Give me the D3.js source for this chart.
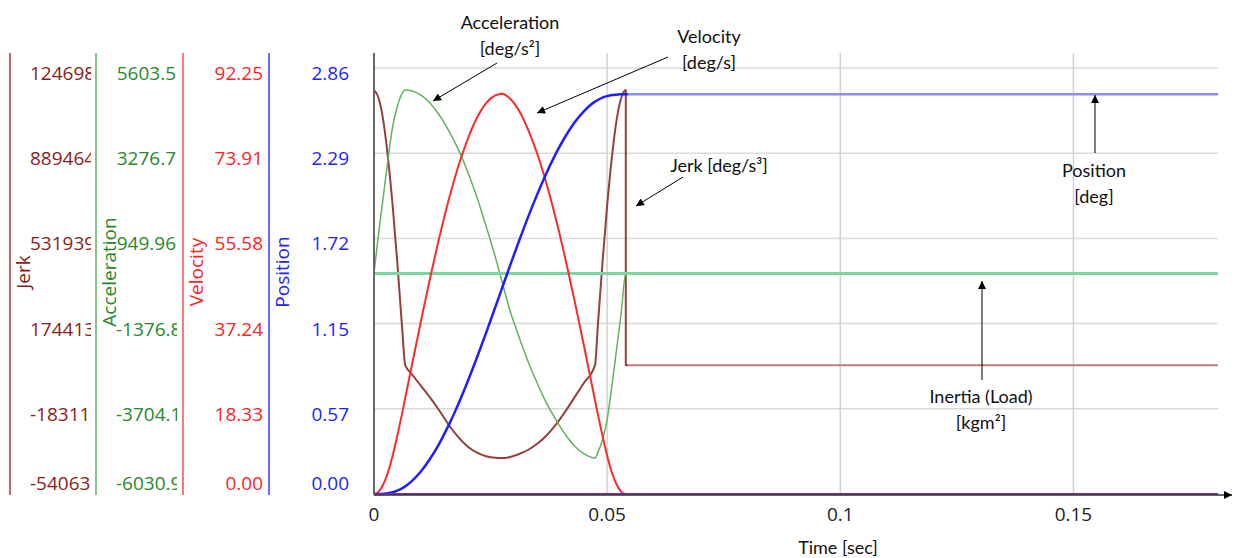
<!DOCTYPE html>
<html>
<head>
<meta charset="utf-8">
<script src="https://cdn.jsdelivr.net/npm/d3@7"></script>
<style>
  html, body { margin: 0; padding: 0; background: #fff; }
  text { font-family: "Open Sans", sans-serif; }
  .note { font-family: Lato, sans-serif; font-size: 18px; fill: #111; }
</style>
</head>
<body>
<div id="chart"></div>
<script>
// time samples (s); 0.054 appears twice for the jerk drop
const time = [0, 0.001, 0.002, 0.003, 0.004, 0.005, 0.006, 0.0067, 0.008, 0.010,
  0.012, 0.014, 0.016, 0.018, 0.020, 0.022, 0.024, 0.026, 0.0275, 0.029,
  0.031, 0.033, 0.035, 0.037, 0.039, 0.041, 0.043, 0.045, 0.0474, 0.048,
  0.049, 0.050, 0.051, 0.052, 0.053, 0.054, 0.054, 0.181];

const jerk = [1154700, 1120000, 1025000, 870000, 670000, 430000, 165000, 0, -35000, -85000,
  -135000, -190000, -250000, -300000, -340000, -366000, -382000, -389000, -390000, -386000,
  -374000, -356000, -330000, -295000, -250000, -195000, -135000, -75000, 0, 165000,
  430000, 670000, 870000, 1025000, 1120000, 1154700, 0, 0];

const acceleration = [0, 1100, 2100, 3100, 4000, 4550, 4900, 5000, 4980, 4870,
  4650, 4320, 3900, 3400, 2800, 2100, 1300, 450, -250, -950,
  -1700, -2400, -3000, -3550, -4000, -4400, -4720, -4930, -5048, -4900,
  -4550, -4000, -3100, -2100, -1100, 0, 0, 0];

const velocity = [0, 0.5, 2.1, 4.7, 8.3, 12.6, 17.3, 20.8, 27.3, 37.1,
  46.6, 55.5, 63.6, 70.7, 76.6, 81.3, 84.6, 86.3, 86.7, 85.8,
  83.2, 79.0, 73.7, 67.2, 59.6, 51.1, 41.9, 32.2, 20.3, 17.3,
  12.6, 8.3, 4.7, 2.1, 0.5, 0, 0, 0];

const position = [0, 0.0003, 0.0016, 0.0051, 0.0117, 0.0224, 0.0377, 0.0513, 0.0833, 0.149,
  0.235, 0.339, 0.461, 0.598, 0.749, 0.910, 1.079, 1.254, 1.387, 1.519,
  1.691, 1.857, 2.013, 2.157, 2.287, 2.400, 2.496, 2.571, 2.636, 2.647,
  2.663, 2.673, 2.680, 2.683, 2.685, 2.685, 2.685, 2.685];

const inertia = time.map(() => 0.00523);  // constant load inertia [kgm2]
const torque = time.map(() => 0);         // purple trace along the base

// axis tick labels as printed
const jerkLabels = ["-540636.6", "-183111.4", "174413.8", "531939.0", "889464.2", "1246989.4"];
const accLabels = ["-6030.9", "-3704.1", "-1376.8", "949.96", "3276.7", "5603.5"];
const velLabels = ["0.00", "18.33", "37.24", "55.58", "73.91", "92.25"];
const posLabels = ["0.00", "0.57", "1.15", "1.72", "2.29", "2.86"];
const timeTicks = [0, 0.05, 0.1, 0.15];

const W = 1239, H = 558;
const pL = 374, pR = 1218, pT = 68, pB = 494, gridTop = 53;

const svg = d3.select("#chart").append("svg")
    .attr("width", W)
    .attr("height", H);

const x = d3.scaleLinear().domain([0, 0.181]).range([pL, pR]);
const yJerk = d3.scaleLinear().domain([-540636.6, 1246989.4]).range([pB, pT]);
const yAcc = d3.scaleLinear().domain([-6030.9, 5603.5]).range([pB, pT]);
const yVel = d3.scaleLinear().domain([0, 92.25]).range([pB, pT]);
const yPos = d3.scaleLinear().domain([0, 2.862]).range([pB, pT]);
const yInertia = d3.scaleLinear().domain([0, 0.0101]).range([pB, pT]);

const defs = svg.append("defs");
defs.append("marker")
    .attr("id", "arrow")
    .attr("viewBox", "0 0 10 10")
    .attr("refX", 10).attr("refY", 5)
    .attr("markerWidth", 9).attr("markerHeight", 8)
    .attr("markerUnits", "userSpaceOnUse")
    .attr("orient", "auto")
  .append("path")
    .attr("d", "M0,0L10,5L0,10z")
    .attr("fill", "#000");

defs.append("clipPath").attr("id", "plotClip")
  .append("rect")
    .attr("x", pL).attr("y", gridTop - 2)
    .attr("width", pR - pL + 2).attr("height", pB - gridTop + 4);

// the flat part after the move looks paler than the moving part
function fadeGradient(id, strong, pale) {
  const g = defs.append("linearGradient")
      .attr("id", id)
      .attr("gradientUnits", "userSpaceOnUse")
      .attr("x1", pL).attr("x2", pR).attr("y1", 0).attr("y2", 0);
  const cut = (x(0.0545) - pL) / (pR - pL);
  g.append("stop").attr("offset", cut).attr("stop-color", strong);
  g.append("stop").attr("offset", cut).attr("stop-color", pale);
}
fadeGradient("posGrad", "#1e1eff", "#8a8cff");
fadeGradient("jerkGrad", "#94403f", "#c27a7a");

// grid
const yGrid = d3.range(6).map(i => pT + i * (pB - pT) / 5);
svg.append("g")
  .selectAll("line")
  .data(yGrid.slice(0, 5))
  .join("line")
    .attr("x1", pL).attr("x2", pR)
    .attr("y1", d => d).attr("y2", d => d)
    .attr("stroke", "#dadada")
    .attr("stroke-width", 1.5);

svg.append("g")
  .selectAll("line")
  .data(timeTicks.slice(1))
  .join("line")
    .attr("x1", d => x(d)).attr("x2", d => x(d))
    .attr("y1", gridTop).attr("y2", pB)
    .attr("stroke", "#d2d2d2")
    .attr("stroke-width", 1.5);

// left stacked axes
const axes = [
  { name: "Jerk", labels: jerkLabels, x0: 10, text: "#8b1c1c", line: "#a03a3a" },
  { name: "Acceleration", labels: accLabels, x0: 96, text: "#26892a", line: "#5cb25c" },
  { name: "Velocity", labels: velLabels, x0: 183, text: "#ff2424", line: "#ff4d4d" },
  { name: "Position", labels: posLabels, x0: 269, text: "#2323ff", line: "#3a3aff" }
];

axes.forEach((a, k) => {
  const g = svg.append("g");
  const boxL = a.x0 + 20, boxR = a.x0 + 81;

  defs.append("clipPath").attr("id", "lab" + k)
    .append("rect")
      .attr("x", boxL).attr("y", 40)
      .attr("width", boxR - boxL).attr("height", 470);

  g.append("line")
      .attr("x1", a.x0).attr("x2", a.x0)
      .attr("y1", gridTop).attr("y2", pB + 1)
      .attr("stroke", a.line)
      .attr("stroke-width", 1.5);

  g.append("text")
      .attr("transform", `translate(${a.x0 + 13},272) rotate(-90)`)
      .attr("text-anchor", "middle")
      .attr("dominant-baseline", "central")
      .attr("font-size", 19)
      .attr("fill", a.text)
      .text(a.name);

  const lab = g.append("g").attr("clip-path", `url(#lab${k})`);
  lab.selectAll("text")
    .data(a.labels)
    .join("text")
      .attr("y", (d, i) => Math.min(yGrid[5 - i] + 5, 483))
      .attr("dominant-baseline", "central")
      .attr("font-size", 19)
      .attr("fill", a.text)
      .text(d => d)
      .each(function () {
        const t = d3.select(this);
        const w = this.getComputedTextLength();
        // overflowing labels start at the box edge and get cut on the right
        if (w > boxR - boxL) t.attr("x", boxL).attr("text-anchor", "start");
        else t.attr("x", boxR - 1).attr("text-anchor", "end");
      });
});

// curves
const plot = svg.append("g").attr("clip-path", "url(#plotClip)");
const idx = d3.range(time.length);

function trace(values, scale, color, width) {
  plot.append("path")
      .datum(idx)
      .attr("fill", "none")
      .attr("stroke", color)
      .attr("stroke-width", width)
      .attr("stroke-linejoin", "round")
      .attr("d", d3.line()
        .x(i => x(time[i]))
        .y(i => scale(values[i]))
        .curve(d3.curveMonotoneX));
}

trace(jerk, yJerk, "url(#jerkGrad)", 2);
trace(acceleration, yAcc, "#62b262", 1.5);
trace(inertia, yInertia, "#78d8a2", 3);
trace(velocity, yVel, "#ff2a2a", 2);
trace(position, yPos, "url(#posGrad)", 2.5);

// x axis
svg.append("line")
    .attr("x1", pL).attr("x2", 1232)
    .attr("y1", pB + 1).attr("y2", pB + 1)
    .attr("stroke", "#333")
    .attr("stroke-width", 1.5)
    .attr("marker-end", "url(#arrow)");

trace(torque, yVel, "#7a2bd6", 2);

svg.append("line")
    .attr("x1", pL).attr("x2", pL)
    .attr("y1", gridTop).attr("y2", pB + 1)
    .attr("stroke", "#666")
    .attr("stroke-width", 2);

svg.append("g")
  .selectAll("text")
  .data(timeTicks)
  .join("text")
    .attr("x", d => x(d))
    .attr("y", 514)
    .attr("text-anchor", "middle")
    .attr("dominant-baseline", "central")
    .attr("font-size", 19)
    .attr("fill", "#222")
    .text(d => d);

svg.append("text")
    .attr("class", "note")
    .attr("x", 838).attr("y", 547)
    .attr("text-anchor", "middle")
    .attr("dominant-baseline", "central")
    .text("Time [sec]");

// annotations
const notes = [
  { lines: ["Acceleration", "[deg/s²]"], cx: 510, y: 22, from: [497, 63], to: [433, 101] },
  { lines: ["Velocity", "[deg/s]"], cx: 709, y: 36, from: [668, 57], to: [537, 113] },
  { lines: ["Jerk [deg/s³]"], cx: 719, y: 165, from: [683, 177], to: [636, 206] },
  { lines: ["Position", "[deg]"], cx: 1094, y: 170, from: [1095, 153], to: [1095, 95] },
  { lines: ["Inertia (Load)", "[kgm²]"], cx: 981, y: 396, from: [982, 380], to: [982, 281] }
];

notes.forEach(n => {
  svg.append("line")
      .attr("x1", n.from[0]).attr("y1", n.from[1])
      .attr("x2", n.to[0]).attr("y2", n.to[1])
      .attr("stroke", "#000")
      .attr("stroke-width", 1)
      .attr("marker-end", "url(#arrow)");
  n.lines.forEach((s, i) => {
    svg.append("text")
        .attr("class", "note")
        .attr("x", n.cx).attr("y", n.y + i * 26)
        .attr("text-anchor", "middle")
        .attr("dominant-baseline", "central")
        .text(s);
  });
});
</script>
</body>
</html>
